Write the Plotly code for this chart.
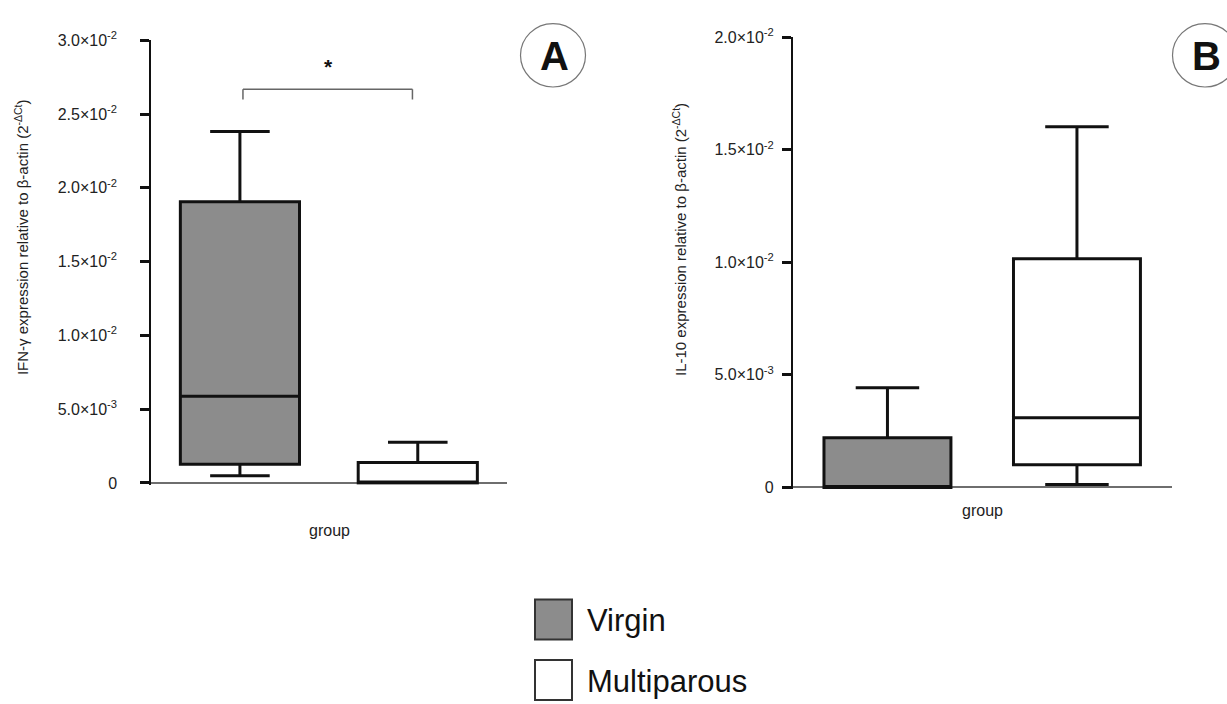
import plotly.graph_objects as go

# ---------------- data ----------------
groups = ["Virgin", "Multiparous"]
fill_colors = ["#8c8c8c", "#ffffff"]

# Panel A : IFN-gamma expression (2^-dCt)
ifn_q1 = [1.27e-3, 0.0]
ifn_median = [5.88e-3, 0.0]
ifn_q3 = [19.06e-3, 1.39e-3]
ifn_lower = [0.48e-3, 0.0]
ifn_upper = [23.82e-3, 2.75e-3]

# Panel B : IL-10 expression (2^-dCt)
il10_q1 = [0.0, 1.01e-3]
il10_median = [0.0, 3.10e-3]
il10_q3 = [2.21e-3, 10.16e-3]
il10_lower = [0.0, 0.13e-3]
il10_upper = [4.43e-3, 16.02e-3]

a_tickvals = [0, 0.005, 0.010, 0.015, 0.020, 0.025, 0.030]
a_ticktext = ["0", "5.0×10<sup>-3</sup>", "1.0×10<sup>-2</sup>", "1.5×10<sup>-2</sup>",
              "2.0×10<sup>-2</sup>", "2.5×10<sup>-2</sup>", "3.0×10<sup>-2</sup>"]
b_tickvals = [0, 0.005, 0.010, 0.015, 0.020]
b_ticktext = ["0", "5.0×10<sup>-3</sup>", "1.0×10<sup>-2</sup>", "1.5×10<sup>-2</sup>",
              "2.0×10<sup>-2</sup>"]

a_title = "IFN-γ expression relative to β-actin (2<sup>-ΔCt</sup>)"
b_title = "IL-10 expression relative to β-actin (2<sup>-ΔCt</sup>)"
x_title = "group"
panel_labels = ["A", "B"]
significance = "*"

# ---------------- layout helpers ----------------
W, H = 1227, 704
FONT = "Liberation Sans, Arial, sans-serif"


def px(x):
    return x / W


def py(y):
    return 1 - y / H


fig = go.Figure()

for i, g in enumerate(groups):
    fig.add_trace(go.Box(
        x=[g], q1=[ifn_q1[i]], median=[ifn_median[i]], q3=[ifn_q3[i]],
        lowerfence=[ifn_lower[i]], upperfence=[ifn_upper[i]],
        name=g, fillcolor=fill_colors[i], line=dict(color="#111111", width=3),
        width=0.67, whiskerwidth=0.5, boxpoints=False, showlegend=False,
        xaxis="x", yaxis="y"))
    fig.add_trace(go.Box(
        x=[g], q1=[il10_q1[i]], median=[il10_median[i]], q3=[il10_q3[i]],
        lowerfence=[il10_lower[i]], upperfence=[il10_upper[i]],
        name=g, fillcolor=fill_colors[i], line=dict(color="#111111", width=3),
        width=0.67, whiskerwidth=0.5, boxpoints=False, showlegend=False,
        xaxis="x2", yaxis="y2"))

xcommon = dict(type="category", categoryarray=groups, categoryorder="array",
               range=[-0.5, 1.5], showticklabels=False, ticks="", showline=False,
               showgrid=False, zeroline=False, fixedrange=True)
ycommon = dict(showline=True, linecolor="#111111", linewidth=1.5, ticks="outside",
               ticklen=9, tickwidth=3, tickcolor="#111111", showgrid=False,
               zeroline=True, zerolinecolor="#6e6e6e", zerolinewidth=1.5,
               tickfont=dict(family=FONT, size=16, color="#222222"), fixedrange=True)

fig.update_layout(
    width=W, height=H, margin=dict(l=0, r=0, t=0, b=0),
    paper_bgcolor="white", plot_bgcolor="white", showlegend=False,
    boxmode="overlay",
    xaxis=dict(domain=[px(151), px(506.7)], anchor="y", **xcommon),
    yaxis=dict(domain=[py(486.3), py(30)], anchor="x", range=[-0.00013, 0.030],
               tickvals=a_tickvals, ticktext=a_ticktext, ticklabelstandoff=20, **ycommon),
    xaxis2=dict(domain=[px(792.7), px(1171.7)], anchor="y2", **xcommon),
    yaxis2=dict(domain=[py(491), py(26.7)], anchor="x2", range=[-0.0000865, 0.020],
                tickvals=b_tickvals, ticktext=b_ticktext, ticklabelstandoff=5, **ycommon),
)

annotations = []
shapes = []

# axis titles
annotations.append(dict(text=a_title, x=px(21), y=py(232), xref="paper", yref="paper",
                        textangle=-90, showarrow=False, xanchor="center", yanchor="middle",
                        font=dict(family=FONT, size=15, color="#222222")))
annotations.append(dict(text=b_title, x=px(680), y=py(235), xref="paper", yref="paper",
                        textangle=-90, showarrow=False, xanchor="center", yanchor="middle",
                        font=dict(family=FONT, size=15, color="#222222")))
annotations.append(dict(text=x_title, x=px(329), y=py(533), xref="paper", yref="paper",
                        showarrow=False, xanchor="center", yanchor="middle",
                        font=dict(family=FONT, size=16, color="#222222")))
annotations.append(dict(text=x_title, x=px(982), y=py(513), xref="paper", yref="paper",
                        showarrow=False, xanchor="center", yanchor="middle",
                        font=dict(family=FONT, size=16, color="#222222")))

# significance bracket between the two groups of panel A
br_x0, br_x1, br_top, br_bot = 0.017, 0.97, 0.02668, 0.02598
for (x0, y0, x1, y1) in [(br_x0, br_bot, br_x0, br_top), (br_x0, br_top, br_x1, br_top),
                         (br_x1, br_top, br_x1, br_bot)]:
    shapes.append(dict(type="line", xref="x", yref="y", x0=x0, y0=y0, x1=x1, y1=y1,
                       line=dict(color="#666666", width=1.5)))
annotations.append(dict(text=f"<b>{significance}</b>", x=0.5, y=0.0282, xref="x", yref="y",
                        showarrow=False, xanchor="center", yanchor="middle",
                        font=dict(family=FONT, size=21, color="#111111")))

# panel labels in circles
for lab, cx, cy, r in [(panel_labels[0], 553, 45.5, 32.5), (panel_labels[1], 1205, 45.5, 32.5)]:
    shapes.append(dict(type="circle", xref="paper", yref="paper",
                       x0=px(cx - r), x1=px(cx + r), y0=py(cy + r), y1=py(cy - r),
                       line=dict(color="#777777", width=1.2), fillcolor="rgba(0,0,0,0)"))
    annotations.append(dict(text=f"<b>{lab}</b>", x=px(cx + 1), y=py(cy + 1), xref="paper",
                            yref="paper", showarrow=False, xanchor="center", yanchor="middle",
                            font=dict(family=FONT, size=40, color="#111111")))

# legend
leg = [(groups[0], fill_colors[0], 604, 645, 625), (groups[1], fill_colors[1], 666, 707, 688)]
for name, col, y0, y1, ty in leg:
    shapes.append(dict(type="rect", xref="paper", yref="paper", x0=px(535), x1=px(572),
                       y0=py(y1), y1=py(y0), fillcolor=col, line=dict(color="#333333", width=2)))
    annotations.append(dict(text=name, x=px(585), y=py(ty), xref="paper", yref="paper",
                            showarrow=False, xanchor="left", yanchor="middle",
                            font=dict(family=FONT, size=31, color="#111111")))

fig.update_layout(annotations=annotations, shapes=shapes)

fig.write_html("out.html", config={"displayModeBar": False},
               post_script="document.body.style.margin='0';document.body.style.overflow='hidden';")
